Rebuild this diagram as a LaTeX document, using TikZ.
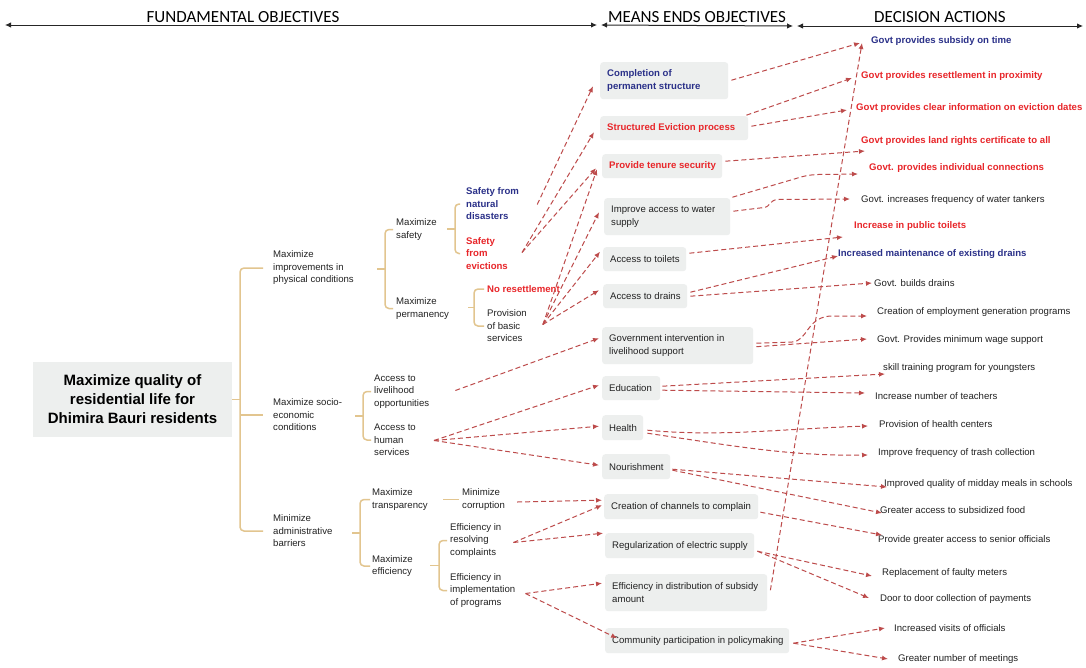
\documentclass[tikz,border=0pt]{standalone}
\usepackage{fontspec}
\setmainfont{Liberation Sans}
\newfontfamily\hdfont{Carlito}
\usetikzlibrary{arrows.meta,calc}
\definecolor{navyc}{HTML}{2B3189}
\definecolor{redc}{HTML}{E8262A}
\definecolor{txtc}{HTML}{222222}
\definecolor{boxc}{HTML}{EDEFEE}
\definecolor{treec}{HTML}{E2C58F}
\definecolor{arrc}{HTML}{BD4B4B}
\newcommand\mbnode[7]{\node[mbox, minimum width=#4pt, minimum height=#5pt] (#1) at (#2,#3) {};\node[tx,#6] (#1t) at ($(#1.west)+(7,0)$) {#7};}
\begin{document}
\begin{tikzpicture}[x=1pt,y=-1pt,
  tx/.style={anchor=west, align=left, inner sep=0pt, text=txtc, font=\fontsize{9.6}{12.5}\selectfont},
  nb/.style={text=navyc, font=\fontsize{9.6}{12.5}\selectfont\bfseries},
  rb/.style={text=redc, font=\fontsize{9.6}{12.5}\selectfont\bfseries},
  mbox/.style={fill=boxc, rounded corners=3pt, anchor=north west, inner sep=0pt},
  brk/.style={draw=treec, line width=1.5pt, rounded corners=4pt},
  arr/.style={draw=arrc, line width=1pt, dash pattern=on 5pt off 3pt, -{Latex[length=6pt,width=5pt]}},
  hdr/.style={font=\hdfont\fontsize{17}{20}\selectfont, text=black, inner sep=0pt},
  harr/.style={line width=1pt, draw=black!85, {Latex[length=6pt,width=5.5pt]}-{Latex[length=6pt,width=5.5pt]}}
]
\fill[white] (0,0) rectangle (1086,667);
\useasboundingbox (0,0) rectangle (1086,667);

% header
\node[hdr] (h1) at (243,17) {FUNDAMENTAL OBJECTIVES};
\node[hdr] (h2) at (697,17) {MEANS ENDS OBJECTIVES};
\node[hdr] (h3) at (940,17) {DECISION ACTIONS};
\coordinate (a0) at (5,25);
\coordinate (a1) at (597,25);
\coordinate (a2) at (601,25);
\coordinate (a3) at (793,26);
\coordinate (a4) at (797,26);
\coordinate (a5) at (1083,26);
\draw[harr] (a0) -- (a1);
\draw[harr] (a2) -- (a3);
\draw[harr] (a4) -- (a5);

% root
\node[fill=boxc, minimum width=199pt, minimum height=75pt, inner sep=0pt, align=center,
  text=black, font=\fontsize{15}{19}\selectfont\bfseries] (root) at (132.5,399.5)
  {Maximize quality of\\residential life for\\Dhimira Bauri residents};

% tree texts
\node[tx] (L1a) at (273,268) {Maximize\\improvements in\\physical conditions};
\node[tx] (L1b) at (273,415) {Maximize socio-\\economic\\conditions};
\node[tx] (L1c) at (273,531) {Minimize\\administrative\\barriers};
\node[tx] (L2a) at (396,229.5) {Maximize\\safety};
\node[tx] (L2b) at (396,308.5) {Maximize\\permanency};
\node[tx,nb] (L3a) at (466,204) {Safety from\\natural\\disasters};
\node[tx,rb] (L3b) at (466,253.5) {Safety\\from\\evictions};
\node[tx,rb] (L3c) at (487,289) {No resettlement};
\node[tx] (L3d) at (487,326) {Provision\\of basic\\services};
\node[tx] (L2c) at (374,391.5) {Access to\\livelihood\\opportunities};
\node[tx] (L2d) at (374,440) {Access to\\human\\services};
\node[tx] (L2e) at (372,499.5) {Maximize\\transparency};
\node[tx] (L2f) at (372,566) {Maximize\\efficiency};
\node[tx] (L3e) at (462,499.5) {Minimize\\corruption};
\node[tx] (L3f) at (450,540.5) {Efficiency in\\resolving\\complaints};
\node[tx] (L3g) at (450,590.5) {Efficiency in\\implementation\\of programs};

% tree brackets
\draw[brk] (root.east) -- ++(8,0);
\draw[brk] ($(L1a.west)+(-10,0)$) -| ($(L1b.west)+(-33,0)$) |- ($(L1c.west)+(-10,0)$);
\draw[brk] ($(L1b.west)+(-33,0)$) -- ($(L1b.west)+(-10,0)$);

\draw[brk] ($(L2a.west)+(-3,0)$) -- ++(-8,0) |- ($(L2b.west)+(-3,0)$);
\draw[brk] ($(L2a.west)!.5!(L2b.west)+(-19,0)$) -- ++(8,0);

\draw[brk] ($(L3a.west)+(-6,0)$) -- ++(-5,0) |- ($(L3b.west)+(-6,0)$);
\draw[brk] ($(L3a.west)!.5!(L3b.west)+(-19,0)$) -- ++(8,0);

\draw[brk] ($(L3c.west)+(-3,0)$) -- ++(-10,0) |- ($(L3d.west)+(-3,0)$);
\draw[brk] ($(L3c.west)!.5!(L3d.west)+(-19,0)$) -- ++(6,0);

\draw[brk] ($(L2c.west)+(-3,0)$) -- ++(-8,0) |- ($(L2d.west)+(-3,0)$);
\draw[brk] ($(L2c.west)!.5!(L2d.west)+(-19,0)$) -- ++(8,0);

\draw[brk] ($(L2e.west)+(-2,0)$) -- ++(-10,0) |- ($(L2f.west)+(-2,0)$);
\draw[brk] ($(L2e.west)!.5!(L2f.west)+(-20,0)$) -- ++(8,0);

\draw[brk] ($(L3e.west)+(-19,0)$) -- ($(L3e.west)+(-3,0)$);

\draw[brk] ($(L3f.west)+(-3,0)$) -- ++(-8,0) |- ($(L3g.west)+(-3,0)$);
\draw[brk] ($(L3f.west)!.5!(L3g.west)+(-20,0)$) -- ++(9,0);

% middle boxes
\mbnode{B1}{600}{62}{128}{37}{nb}{Completion of\\permanent structure}
\mbnode{B2}{600}{116}{148}{24}{rb}{Structured Eviction process}
\mbnode{B3}{602}{154}{120}{24}{rb}{Provide tenure security}
\mbnode{B4}{604}{198}{126}{37}{}{Improve access to water\\supply}
\mbnode{B5}{603}{247}{83}{24}{}{Access to toilets}
\mbnode{B6}{603}{284}{84}{24}{}{Access to drains}
\mbnode{B7}{602}{327}{151}{37}{}{Government intervention in\\livelihood support}
\mbnode{B8}{602}{376}{58}{24}{}{Education}
\mbnode{B9}{602}{415}{41}{25}{}{Health}
\mbnode{B10}{602}{454}{68}{25}{}{Nourishment}
\mbnode{B11}{604}{494}{154}{25}{}{Creation of channels to complain}
\mbnode{B12}{605}{533}{149}{25}{}{Regularization of electric supply}
\mbnode{B13}{605}{574}{162}{37}{}{Efficiency in distribution of subsidy\\amount}
\mbnode{B14}{605}{628}{184}{25}{}{Community participation in policymaking}

% right texts
\node[tx,nb] (R1) at (871,41) {Govt provides subsidy on time};
\node[tx,rb] (R2) at (861,76) {Govt provides resettlement in proximity};
\node[tx,rb] (R3) at (856,108) {Govt provides clear information on eviction dates};
\node[tx,rb] (R4) at (861,141) {Govt provides land rights certificate to all};
\node[tx,rb] (R5) at (869,168) {Govt. provides individual connections};
\node[tx] (R6) at (861,200) {Govt. increases frequency of water tankers};
\node[tx,rb] (R7) at (854,226) {Increase in public toilets};
\node[tx,nb] (R8) at (838,254.5) {Increased maintenance of existing drains};
\node[tx] (R9) at (874,283) {Govt. builds drains};
\node[tx] (R10) at (877,312) {Creation of employment generation programs};
\node[tx] (R11) at (877,340) {Govt. Provides minimum wage support};
\node[tx] (R12) at (883,368) {skill training program for youngsters};
\node[tx] (R13) at (875,396) {Increase number of teachers};
\node[tx] (R14) at (879,424) {Provision of health centers};
\node[tx] (R15) at (878,453) {Improve frequency of trash collection};
\node[tx] (R16) at (884,484) {Improved quality of midday meals in schools};
\node[tx] (R17) at (880,510) {Greater access to subsidized food};
\node[tx] (R18) at (878,540) {Provide greater access to senior officials};
\node[tx] (R19) at (882,573) {Replacement of faulty meters};
\node[tx] (R20) at (880,599) {Door to door collection of payments};
\node[tx] (R21) at (894,628) {Increased visits of officials};
\node[tx] (R22) at (898,659) {Greater number of meetings};

% left -> middle arrows
\draw[arr] ($(L3a.east)+(18,0.5)$) -- ($(B1.west)+(-7,5.5)$);
\draw[arr] ($(L3b.east)+(14,-1)$) -- ($(B2.west)+(-6,4)$);
\draw[arr] ($(L3b.east)+(14,-1)$) -- ($(B3.west)+(-6,2)$);
\draw[arr] ($(L3d.east)+(16,-1.5)$) -- ($(B3.west)+(-5,3)$);
\draw[arr] ($(L3d.east)+(16,-1.5)$) -- ($(B4.west)+(-5,-4.5)$);
\draw[arr] ($(L3d.east)+(16,-1.5)$) -- ($(B5.west)+(-3,-7.5)$);
\draw[arr] ($(L3d.east)+(16,-1.5)$) -- ($(B6.west)+(-4,-6)$);
\draw[arr] ($(L2c.east)+(26,-1)$) -- ($(B7.west)+(-3,-7.5)$);
\draw[arr] ($(L2d.east)+(18,0.5)$) -- ($(B8.west)+(-3,-3)$);
\draw[arr] ($(L2d.east)+(18,0.5)$) -- ($(B9.west)+(-3,-1.5)$);
\draw[arr] ($(L2d.east)+(18,0.5)$) -- ($(B10.west)+(-3,-1.5)$);
\draw[arr] ($(L3e.east)+(12,2.5)$) -- ($(B11.west)+(-2,-6.5)$);
\draw[arr] ($(L3f.east)+(12,2)$) -- ($(B11.west)+(-2,-1.5)$);
\draw[arr] ($(L3f.east)+(12,2)$) -- ($(B12.west)+(-2,-12.5)$);
\draw[arr] ($(L3g.east)+(10,3)$) -- ($(B13.west)+(-3,-9.5)$);
\draw[arr] ($(L3g.east)+(10,3)$) -- ($(B14.west)+(12,-2.5)$);

% middle -> right arrows
\draw[arr] ($(B1.east)+(3,-0.5)$) -- ($(R1.west)+(-11,2)$);
\draw[arr] ($(B2.east)+(-2,-13)$) -- ($(R2.west)+(-9,2)$);
\draw[arr] ($(B2.east)+(3,-2)$) -- ($(R3.west)+(-9,2)$);
\draw[arr] ($(B3.east)+(3,-5)$) -- ($(R4.west)+(4,10)$);
\draw[arr] ($(B4.east)+(2,-19.5)$) -- (796,178.5) .. controls (804,176) and (808,175) .. (818,174.5) -- ($(R5.west)+(-11,6)$);
\draw[arr] ($(B4.east)+(3,-5.5)$) -- (764,207.5) .. controls (771,206.5) and (769,200) .. (778,199.5) -- ($(R6.west)+(-11,-1)$);
\draw[arr] ($(B5.east)+(3,-6)$) -- ($(R7.west)+(-11,11)$);
\draw[arr] ($(B6.east)+(3,-4)$) -- ($(R8.west)+(0,1.5)$);
\draw[arr] ($(B6.east)+(3,0)$) -- ($(R9.west)+(-2,0)$);
\draw[arr] ($(B7.east)+(3,-2.5)$) -- (792,342) .. controls (808,341) and (806,318) .. (830,316) -- ($(R10.west)+(-10,4)$);
\draw[arr] ($(B7.east)+(3,1)$) -- ($(R11.west)+(-10,-1)$);
\draw[arr] ($(B8.east)+(2,-2)$) -- ($(R12.west)+(2,6)$);
\draw[arr] ($(B8.east)+(2,2)$) -- ($(R13.west)+(-10,-3)$);
\draw[arr] ($(B9.east)+(4,2.5)$) .. controls (720,437) and (780,429) .. ($(R14.west)+(-11,2)$);
\draw[arr] ($(B9.east)+(4,5.5)$) .. controls (740,447) and (790,456) .. ($(R15.west)+(-10,2)$);
\draw[arr] ($(B10.east)+(2,2.5)$) -- ($(R16.west)+(3,3)$);
\draw[arr] ($(B10.east)+(2,3.5)$) -- ($(R17.west)+(2,3)$);
\draw[arr] ($(B11.east)+(2,5.5)$) -- ($(R18.west)+(4,-5)$);
\draw[arr] ($(B12.east)+(3,5.5)$) -- ($(R19.west)+(-10,3)$);
\draw[arr] ($(B12.east)+(3,5.5)$) -- ($(R20.west)+(-11,-1)$);
\draw[arr] ($(B13.east)+(3,-2.5)$) -- ($(R1.west)+(-9,2)$);
\draw[arr] ($(B14.east)+(4,2.5)$) -- ($(R21.west)+(-9,0)$);
\draw[arr] ($(B14.east)+(4,2.5)$) -- ($(R22.west)+(-10,0)$);
\end{tikzpicture}
\end{document}
